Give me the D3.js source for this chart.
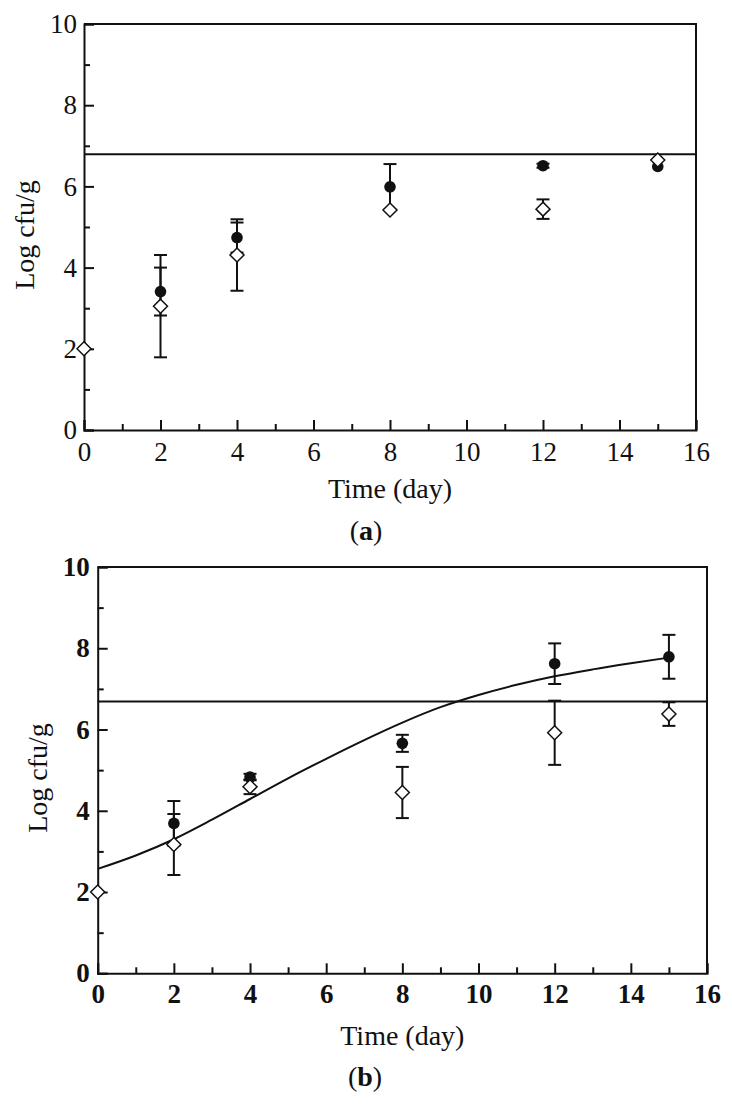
<!DOCTYPE html>
<html>
<head>
<meta charset="utf-8">
<script src="https://cdn.jsdelivr.net/npm/d3@7"></script>
<style>
  html, body { margin: 0; padding: 0; background: #fff; }
  svg { display: block; }
  text { font-family: "Liberation Serif", "Times New Roman", serif; fill: #111; }
</style>
</head>
<body>
<svg id="chart" width="732" height="1109"></svg>
<script>
// ---------- data ----------
const days = [0, 2, 4, 8, 12, 15];
const xTicks = [0, 2, 4, 6, 8, 10, 12, 14, 16];
const yTicks = [0, 2, 4, 6, 8, 10];

// panel (a)
const aFilled    = [null, 3.41, 4.74, 5.99, 6.51, 6.49];
const aFilledErr = [null, 0.59, 0.37, 0.56, 0.05, 0];
const aOpen      = [2.00, 3.05, 4.31, 5.42, 5.44, 6.65];
const aOpenErr   = [0, 1.26, 0.88, 0, 0.24, 0];
const aLimit = 6.79;

// panel (b)
const bFilled    = [null, 3.69, 4.83, 5.66, 7.62, 7.79];
const bFilledErr = [null, 0.55, 0.08, 0.21, 0.50, 0.54];
const bOpen      = [2.00, 3.17, 4.59, 4.45, 5.92, 6.38];
const bOpenErr   = [0, 0.75, 0.18, 0.63, 0.79, 0.29];
const bLimit = 6.69;
const fitDays = [0, 1, 2, 3, 4, 5, 6, 7, 8, 9, 10, 11, 12, 13, 14, 15];
const bFit    = [2.57, 2.90, 3.30, 3.78, 4.29, 4.80, 5.28, 5.74, 6.17, 6.55, 6.85, 7.10, 7.31, 7.48, 7.63, 7.77];

// ---------- drawing ----------
const svg = d3.select("#chart");
const FS = 27;
const TFS = 28;

function panel(cfg) {
  const { left, right, top, bottom, bold } = cfg;
  const x = d3.scaleLinear().domain([0, 16]).range([left, right]);
  const y = d3.scaleLinear().domain([0, 10]).range([bottom, top]);
  const g = svg.append("g");

  // minor ticks
  const minorX = d3.range(1, 16, 2);
  const minorY = d3.range(1, 10, 2);
  g.append("g").attr("transform", `translate(0,${bottom})`)
    .call(d3.axisBottom(x).tickValues(minorX).tickSize(-6).tickFormat(""))
    .call(s => s.select(".domain").remove());
  g.append("g").attr("transform", `translate(${left},0)`)
    .call(d3.axisLeft(y).tickValues(minorY).tickSize(-6).tickFormat(""))
    .call(s => s.select(".domain").remove());

  // major axes
  const xa = g.append("g").attr("transform", `translate(0,${bottom})`)
    .call(d3.axisBottom(x).tickValues(xTicks).tickSize(-10).tickPadding(cfg.xPad).tickFormat(d3.format("d")));
  const ya = g.append("g").attr("transform", `translate(${left},0)`)
    .call(d3.axisLeft(y).tickValues(yTicks).tickSize(-10).tickPadding(cfg.yPad).tickFormat(d3.format("d")));
  [xa, ya].forEach(a => {
    a.selectAll("text").style("font-size", FS + "px").style("font-weight", bold ? "bold" : "normal")
      .style("font-family", '"Liberation Serif", "Times New Roman", serif').attr("fill", "#111");
    a.select(".domain").attr("stroke", "#111").attr("stroke-width", 2);
  });
  g.selectAll(".tick line").attr("stroke", "#111").attr("stroke-width", 2);

  // top and right frame
  g.append("path")
    .attr("d", `M${left},${top}H${right}V${bottom}`)
    .attr("fill", "none").attr("stroke", "#111").attr("stroke-width", 2);

  // limit line
  g.append("line")
    .attr("x1", left).attr("x2", right)
    .attr("y1", y(cfg.limit)).attr("y2", y(cfg.limit))
    .attr("stroke", "#111").attr("stroke-width", 2);

  // fitted curve
  if (cfg.fit) {
    g.append("path")
      .datum(cfg.fitX.map((d, i) => [d, cfg.fit[i]]))
      .attr("d", d3.line().x(d => x(d[0])).y(d => y(d[1])).curve(d3.curveMonotoneX))
      .attr("fill", "none").attr("stroke", "#111").attr("stroke-width", 2);
  }

  // error bars
  const capW = 6.5;
  function errBars(vals, errs) {
    days.forEach((d, i) => {
      const v = vals[i], e = errs[i];
      if (v == null || !e) return;
      const cx = x(d);
      g.append("line").attr("x1", cx).attr("x2", cx)
        .attr("y1", y(v - e)).attr("y2", y(v + e))
        .attr("stroke", "#111").attr("stroke-width", 2);
      [v - e, v + e].forEach(c => {
        g.append("line").attr("x1", cx - capW).attr("x2", cx + capW)
          .attr("y1", y(c)).attr("y2", y(c))
          .attr("stroke", "#111").attr("stroke-width", 2);
      });
    });
  }
  errBars(cfg.filled, cfg.filledErr);
  errBars(cfg.open, cfg.openErr);

  // filled circles
  g.selectAll(".fc").data(days.map((d, i) => [d, cfg.filled[i]]).filter(p => p[1] != null))
    .join("circle")
    .attr("cx", d => x(d[0])).attr("cy", d => y(d[1])).attr("r", 5.8)
    .attr("fill", "#111");

  // open diamonds
  const dw = 7, dh = 7;
  g.selectAll(".od").data(days.map((d, i) => [d, cfg.open[i]]).filter(p => p[1] != null))
    .join("path")
    .attr("d", d => {
      const cx = x(d[0]), cy = y(d[1]);
      return `M${cx},${cy - dh}L${cx + dw},${cy}L${cx},${cy + dh}L${cx - dw},${cy}Z`;
    })
    .attr("fill", "#fff").attr("stroke", "#111").attr("stroke-width", 1.5);

  // axis titles
  g.append("text")
    .attr("x", (left + right) / 2).attr("y", cfg.xTitleY)
    .attr("text-anchor", "middle").style("font-size", TFS + "px")
    .text("Time (day)");
  g.append("text")
    .attr("transform", `translate(${cfg.yTitleX},${cfg.yTitleY}) rotate(-90)`)
    .attr("text-anchor", "middle").style("font-size", TFS + "px")
    .text("Log cfu/g");

  // panel letter
  const lt = g.append("text")
    .attr("x", cfg.letterX).attr("y", cfg.letterY)
    .attr("text-anchor", "middle").style("font-size", TFS + "px");
  lt.append("tspan").text("(");
  lt.append("tspan").style("font-weight", "bold").text(cfg.letter);
  lt.append("tspan").text(")");
}

panel({
  left: 84, right: 696, top: 24, bottom: 430, bold: false,
  xPad: 12, yPad: 7,
  filled: aFilled, filledErr: aFilledErr, open: aOpen, openErr: aOpenErr,
  limit: aLimit,
  xTitleY: 498, yTitleX: 34, yTitleY: 235,
  letter: "a", letterX: 366, letterY: 540
});

panel({
  left: 97.7, right: 707, top: 567, bottom: 973.3, bold: true,
  xPad: 11, yPad: 8,
  filled: bFilled, filledErr: bFilledErr, open: bOpen, openErr: bOpenErr,
  limit: bLimit, fit: bFit, fitX: fitDays,
  xTitleY: 1045, yTitleX: 47, yTitleY: 778,
  letter: "b", letterX: 365, letterY: 1086
});
</script>
</body>
</html>
